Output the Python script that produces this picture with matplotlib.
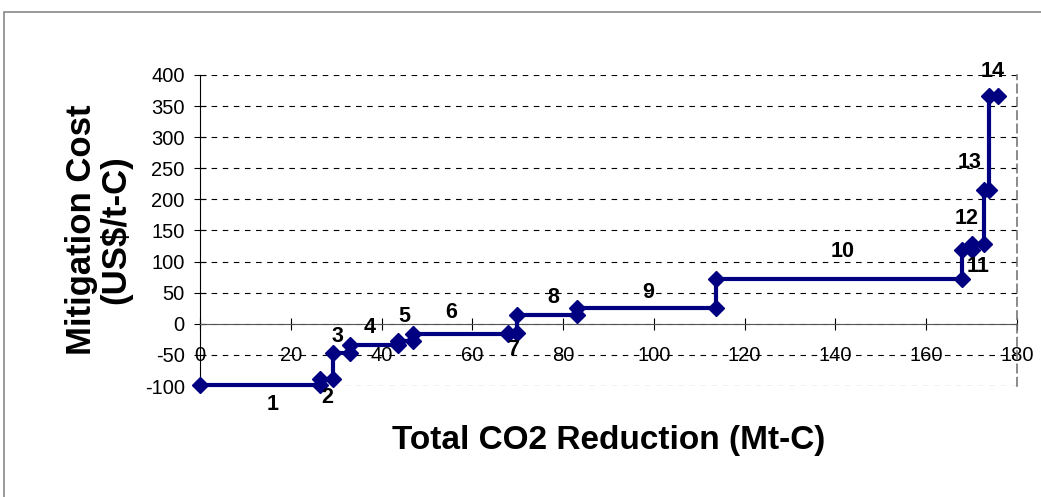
import matplotlib
matplotlib.use("Agg")
import matplotlib.pyplot as plt
from matplotlib.patches import Rectangle

plt.rcParams['font.family'] = ['Liberation Sans', 'DejaVu Sans']
plt.rcParams['axes.unicode_minus'] = False

# Cumulative reduction at the end of each measure (Mt-C)
cum_end = [26.4, 29.3, 33.0, 43.6, 46.9, 67.8, 69.8, 83.0, 113.7, 167.8, 170.0, 172.7, 173.8, 175.8]
# Mitigation cost of each measure (US$/t-C)
costs = [-98, -88, -47, -34, -27, -16, -14, 14, 25, 72, 118, 129, 215, 367]
measure_ids = [str(i) for i in range(1, 15)]
# label anchor positions (data coords)
label_x = [16, 28, 30.4, 37.4, 45, 55.3, 69, 77.8, 98.7, 141.6, 171.4, 169, 169.6, 174.7]
label_y = [-130, -119, -21, -6, 11, 18, -42, 42, 50, 116, 92, 170, 259, 405]

xticks = list(range(0, 181, 20))
yticks = list(range(-100, 401, 50))

# Build step series
xs, ys = [], []
start = 0.0
for xe, c in zip(cum_end, costs):
    xs += [start, xe]
    ys += [c, c]
    start = xe

fig = plt.figure(figsize=(10.41, 4.97), dpi=100)
fig.patch.set_facecolor('white')
ax = fig.add_axes([200/1041, 1-386/497, (1017-200)/1041, (386-75)/497])

for y in yticks:
    ax.axhline(y, color='black', lw=0.8, ls=(0, (5, 5)), zorder=0)
ax.plot(xs, ys, color='#000080', lw=3.0, marker='D', markersize=8,
        markeredgecolor='#000080', markerfacecolor='#000080', zorder=3, clip_on=False)

for t, lx, ly in zip(measure_ids, label_x, label_y):
    ax.text(lx, ly, t, ha='center', va='center', fontsize=15.5, fontweight='bold', zorder=4)

ax.set_xlim(0, 180)
ax.set_ylim(-100, 400)
ax.set_xticks(xticks)
ax.set_yticks(yticks)
ax.spines['bottom'].set_position(('data', 0))
ax.spines['bottom'].set_color('#555555')
ax.spines['left'].set_color('black')
ax.spines['top'].set_visible(False)
ax.spines['right'].set_color('#777777')
ax.spines['right'].set_linestyle((0, (5, 3)))
ax.spines['right'].set_linewidth(1.2)
ax.tick_params(axis='x', direction='inout', length=8, pad=12, labelsize=14.5, width=0.8)
ax.tick_params(axis='y', direction='inout', length=8, pad=7, labelsize=14.5, width=0.8)
ax.patch.set_alpha(0)

fig.text(99/1041, 1-230/497, 'Mitigation Cost\n(US\\$/t-C)', rotation=90, ha='center', va='center',
         fontsize=25, fontweight='bold', linespacing=1.05)
fig.text(609/1041, 1-440/497, 'Total CO2 Reduction (Mt-C)', ha='center', va='center',
         fontsize=24, fontweight='bold')

fig.add_artist(Rectangle((4/1041, -0.1), 1.2, 1 - 12/497 + 0.1, transform=fig.transFigure,
                         fill=False, edgecolor='#888888', lw=1.2))

fig.savefig('out.png', dpi=100)
